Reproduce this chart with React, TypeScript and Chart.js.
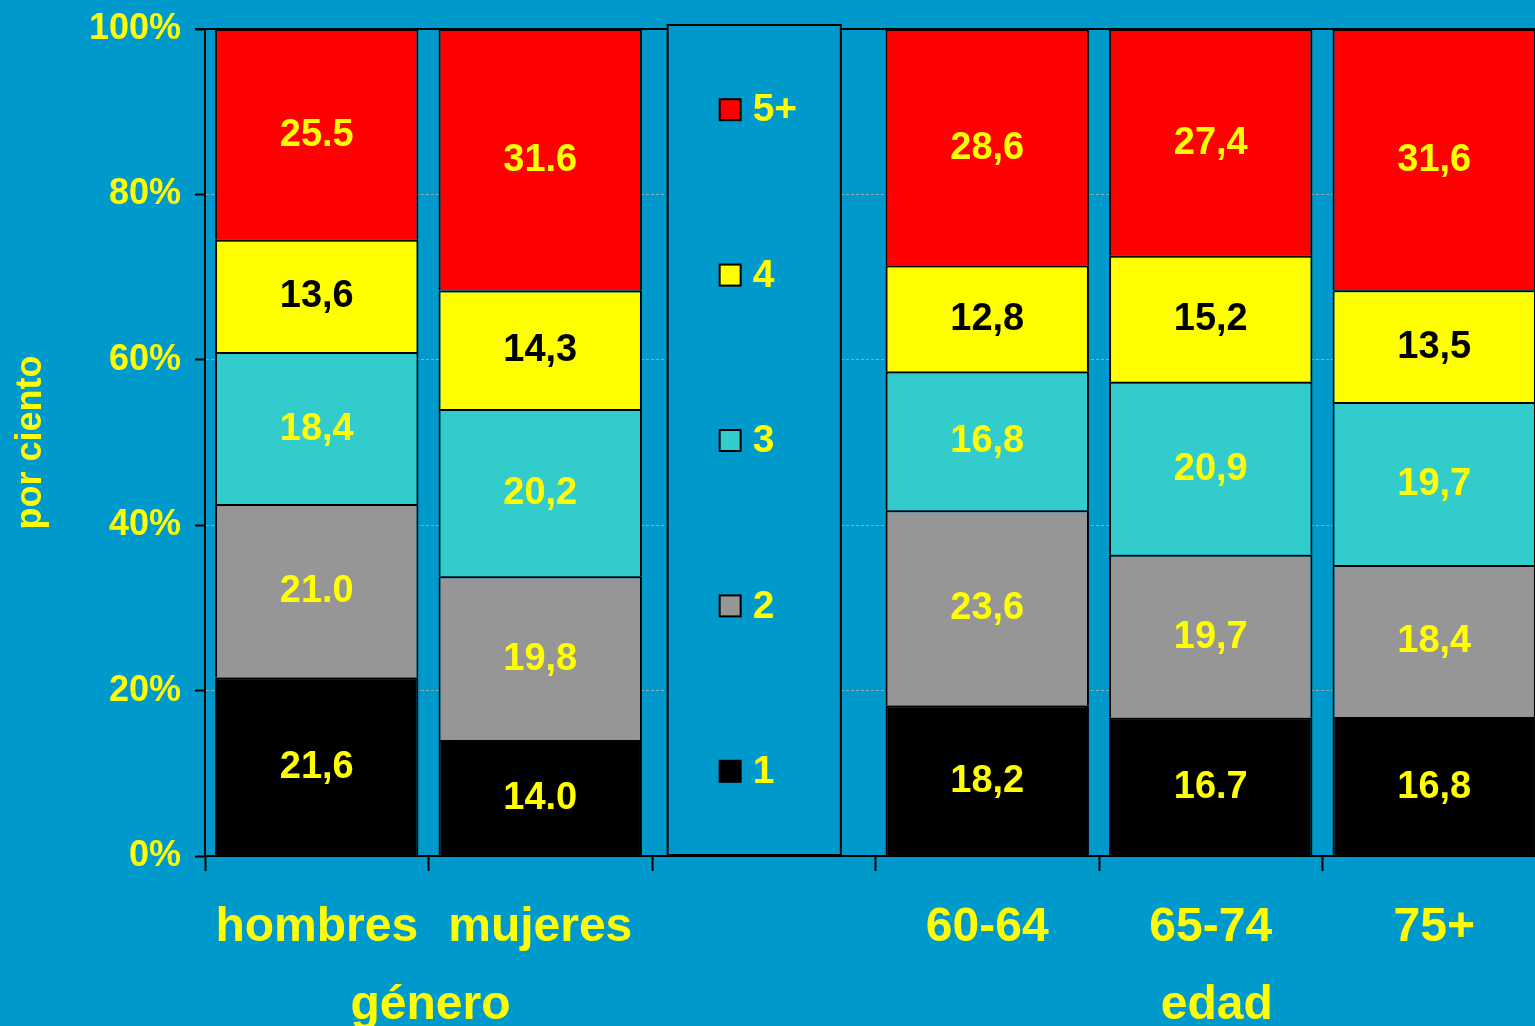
import React, { useEffect, useRef } from "react";
import { Chart, registerables } from "chart.js";

Chart.register(...registerables);

const categories = ["hombres", "mujeres", "", "60-64", "65-74", "75+"];
const seriesNames = ["1", "2", "3", "4", "5+"];
const values1 = [21.6, 14.0, null, 18.2, 16.7, 16.8];
const values2 = [21.0, 19.8, null, 23.6, 19.7, 18.4];
const values3 = [18.4, 20.2, null, 16.8, 20.9, 19.7];
const values4 = [13.6, 14.3, null, 12.8, 15.2, 13.5];
const values5 = [25.5, 31.6, null, 28.6, 27.4, 31.6];
const labels1 = ["21,6", "14.0", "", "18,2", "16.7", "16,8"];
const labels2 = ["21.0", "19,8", "", "23,6", "19,7", "18,4"];
const labels3 = ["18,4", "20,2", "", "16,8", "20,9", "19,7"];
const labels4 = ["13,6", "14,3", "", "12,8", "15,2", "13,5"];
const labels5 = ["25.5", "31.6", "", "28,6", "27,4", "31,6"];
const seriesColors = ["#000000", "#969696", "#33CCCC", "#FFFF00", "#FF0000"];
const labelColors = ["#FFFF00", "#FFFF00", "#FFFF00", "#000000", "#FFFF00"];
const groupLabels = ["género", "edad"];
const groupFrom = [0, 3];
const groupTo = [1, 5];
const yTitle = "por ciento";

const BG = "#0099CC";
const YELLOW = "#FFFF00";
const FONT = "'Liberation Sans', Arial, sans-serif";

const allValues = [values1, values2, values3, values4, values5];
const allLabels = [labels1, labels2, labels3, labels4, labels5];

const totals = categories.map((_, i) =>
  allValues.reduce((s, arr) => s + (arr[i] ?? 0), 0)
);
const normalized = allValues.map((arr) =>
  arr.map((v, i) => (v == null ? null : (v / totals[i]) * 100))
);

const decorPlugin = {
  id: "decor",
  afterDatasetsDraw(chart: any) {
    const { ctx, chartArea, scales } = chart;
    const x = scales.x;
    const y = scales.y;
    ctx.save();

    // top border of plot
    ctx.strokeStyle = "#000";
    ctx.lineWidth = 2;
    ctx.beginPath();
    ctx.moveTo(chartArea.left - 10, chartArea.top);
    ctx.lineTo(chartArea.right, chartArea.top);
    ctx.stroke();

    // value labels
    ctx.font = `bold 38px ${FONT}`;
    ctx.textAlign = "center";
    ctx.textBaseline = "middle";
    chart.data.datasets.forEach((ds: any, di: number) => {
      const meta = chart.getDatasetMeta(di);
      meta.data.forEach((el: any, i: number) => {
        const txt = allLabels[di][i];
        if (!txt) return;
        const p = el.getProps(["x", "y", "base"], true);
        ctx.fillStyle = labelColors[di];
        ctx.fillText(txt, p.x, (p.y + p.base) / 2 + 1);
      });
    });

    // legend box in the empty category
    const cw = x.getPixelForValue(1) - x.getPixelForValue(0);
    const cl = x.getPixelForValue(2) - cw / 2;
    const left = cl + cw * 0.07;
    const right = cl + cw * 0.845;
    const top = chartArea.top - 4;
    const bottom = chartArea.bottom - 1;
    ctx.fillStyle = BG;
    ctx.fillRect(left, top, right - left, bottom - top);
    ctx.strokeStyle = "#000";
    ctx.lineWidth = 2;
    ctx.strokeRect(left, top, right - left, bottom - top);
    ctx.font = `bold 39px ${FONT}`;
    ctx.textAlign = "left";
    chart.data.datasets.forEach((ds: any, di: number) => {
      const yp = y.getPixelForValue(10 + 20 * di) - 2;
      const sx = left + 52;
      ctx.fillStyle = ds.backgroundColor;
      ctx.fillRect(sx, yp - 10.5, 21, 21);
      ctx.strokeStyle = "#000";
      ctx.lineWidth = 2;
      ctx.strokeRect(sx, yp - 10.5, 21, 21);
      ctx.fillStyle = YELLOW;
      ctx.fillText(ds.label, left + 85, yp + 1);
    });

    // group labels
    ctx.font = `bold 48px ${FONT}`;
    ctx.textAlign = "center";
    ctx.textBaseline = "alphabetic";
    ctx.fillStyle = YELLOW;
    groupLabels.forEach((g, gi) => {
      const cx =
        (x.getPixelForValue(groupFrom[gi]) + x.getPixelForValue(groupTo[gi])) / 2;
      ctx.fillText(g, cx + (gi === 1 ? 6 : 2), chartArea.bottom + 163);
    });

    ctx.restore();
  },
};

export default function App() {
  const ref = useRef<HTMLCanvasElement | null>(null);
  useEffect(() => {
    if (!ref.current) return;
    Chart.defaults.font.family = FONT;
    const chart = new Chart(ref.current, {
      type: "bar",
      data: {
        labels: categories,
        datasets: seriesNames.map((name, i) => ({
          label: name,
          data: normalized[i] as any,
          backgroundColor: seriesColors[i],
          borderColor: "#000000",
          borderWidth: 2,
          borderSkipped: "start",
          categoryPercentage: 1,
          barPercentage: 0.91,
        })),
      },
      options: {
        responsive: false,
        animation: false,
        layout: { padding: { top: 29, left: 0, right: 0, bottom: 0 } },
        plugins: {
          legend: { display: false },
          tooltip: { enabled: false },
        },
        scales: {
          x: {
            stacked: true,
            offset: true,
            grid: {
              offset: true,
              drawOnChartArea: false,
              tickLength: 15,
              tickColor: "#000",
              tickWidth: 2,
            },
            border: { color: "#000", width: 2 },
            ticks: {
              color: YELLOW,
              font: { size: 48, weight: "bold", family: FONT },
              padding: 28,
              maxRotation: 0,
              autoSkip: false,
            },
            afterFit: (scale: any) => {
              scale.height = 170;
            },
          },
          y: {
            stacked: true,
            min: 0,
            max: 100,
            ticks: {
              stepSize: 20,
              color: YELLOW,
              font: { size: 36, weight: "bold", family: FONT, lineHeight: 0.6 },
              padding: 14,
              callback: (v: any) => v + "%",
            },
            grid: {
              color: "rgba(170,170,170,0.9)",
              lineWidth: 1,
              tickLength: 10,
              tickColor: "#000",
              tickWidth: 2,
              tickBorderDash: [],
            },
            border: { color: "#000", width: 2, dash: [3, 2] },
            title: {
              display: true,
              text: yTitle,
              color: YELLOW,
              font: { size: 36, weight: "bold", family: FONT },
              padding: { top: 9, bottom: 0 },
            },
            afterFit: (scale: any) => {
              scale.width = 205;
            },
          },
        },
      },
      plugins: [decorPlugin],
    });
    return () => chart.destroy();
  }, []);

  return (
    <div
      style={{
        position: "fixed",
        left: 0,
        top: 0,
        width: 1535,
        height: 1026,
        overflow: "hidden",
        background: BG,
      }}
    >
      <canvas ref={ref} width={1546} height={1026} style={{ display: "block" }} />
    </div>
  );
}
